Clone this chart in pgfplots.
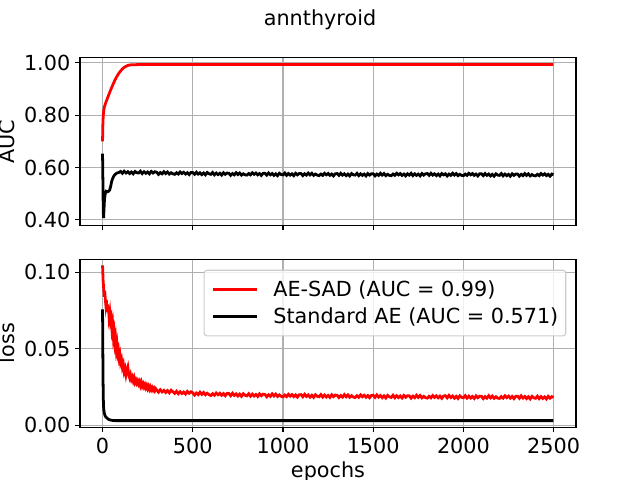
\documentclass[border=0pt]{standalone}
\usepackage{fontspec}
\setmainfont{DejaVu Sans}
\usepackage{pgfplots}
\pgfplotsset{compat=1.18}
\definecolor{mplgrid}{RGB}{176,176,176}
\definecolor{mpllegend}{RGB}{204,204,204}
\pgfplotsset{
  mplstyle/.style={
    scale only axis,
    width=357.12bp, height=120.96bp,
    xmin=-124.95, xmax=2623.95,
    xtick={0,500,1000,1500,2000,2500},
    grid=major,
    grid style={color=mplgrid, line width=0.8bp},
    axis line style={line width=0.8bp},
    tick align=outside,
    major tick length=3.5bp,
    tick style={black, line width=0.8bp},
    xtick pos=bottom, ytick pos=left,
    tick label style={font=\fontsize{15}{18}\selectfont},
    label style={font=\fontsize{15}{18}\selectfont},
    /pgf/number format/assume math mode=true,
    scaled x ticks=false, scaled y ticks=false,
    xticklabel style={yshift=-1bp, /pgf/number format/.cd, fixed, 1000 sep={}},
    yticklabel style={/pgf/number format/.cd, fixed, fixed zerofill, precision=2},
    clip=true,
  },
  legend image code/.code={\draw[#1] (0bp,0bp) -- (31.5bp,0bp);},
}
\begin{document}
\begin{tikzpicture}
\path[use as bounding box] (0,0) rectangle (460.8bp,345.6bp);
\node[anchor=north, inner sep=0pt, font=\fontsize{15}{18}\selectfont] at (230.4bp,338.7bp) {annthyroid};

\begin{axis}[mplstyle,
  at={(57.6bp,183.17bp)}, anchor=south west,
  ymin=0.378, ymax=1.0203,
  ytick={0.4,0.6,0.8,1.0},
  xticklabels={},
  ylabel={AUC},
]
\addplot[red, line width=2bp] coordinates {
(0,0.700) (1,0.740) (2,0.770) (4,0.800) (7,0.820) (10,0.832) (15,0.842) (20,0.852)
(30,0.870) (40,0.888) (50,0.905) (60,0.921) (70,0.936) (80,0.949) (90,0.960)
(100,0.969) (110,0.977) (120,0.983) (130,0.987) (140,0.990) (150,0.992) (165,0.993)
(200,0.9935) (400,0.9935) (800,0.9935) (1200,0.9935) (1600,0.9935) (2000,0.9935) (2499,0.9935)
};
\addplot[black, line width=2bp] table {
0 0.653
2 0.550
4 0.430
6 0.407
8 0.440
11 0.480
15 0.500
20 0.509
25 0.507
30 0.508
35 0.510
40 0.515
45 0.528
50 0.545
55 0.556
60 0.564
65 0.570
70 0.574
80 0.579
90 0.581
100 0.585
110 0.578
120 0.586
130 0.579
140 0.584
150 0.577
160 0.583
170 0.576
180 0.585
190 0.580
200 0.579
210 0.586
220 0.577
230 0.584
240 0.578
250 0.583
260 0.576
270 0.585
280 0.579
290 0.584
300 0.582
310 0.574
320 0.581
330 0.576
340 0.584
350 0.577
360 0.583
370 0.575
380 0.580
390 0.576
400 0.574
410 0.580
420 0.575
430 0.583
440 0.577
450 0.582
460 0.575
470 0.580
480 0.573
490 0.581
500 0.581
510 0.574
520 0.582
530 0.575
540 0.580
550 0.573
560 0.579
570 0.572
580 0.581
590 0.576
600 0.574
610 0.581
620 0.572
630 0.579
640 0.573
650 0.578
660 0.571
670 0.580
680 0.574
690 0.579
700 0.578
710 0.570
720 0.577
730 0.572
740 0.580
750 0.573
760 0.579
770 0.571
780 0.576
790 0.572
800 0.571
810 0.577
820 0.572
830 0.580
840 0.574
850 0.579
860 0.572
870 0.577
880 0.570
890 0.578
900 0.578
910 0.571
920 0.579
930 0.572
940 0.577
950 0.570
960 0.576
970 0.569
980 0.578
990 0.573
1000 0.572
1010 0.579
1020 0.570
1030 0.577
1040 0.571
1050 0.576
1060 0.569
1070 0.578
1080 0.572
1090 0.577
1100 0.577
1110 0.569
1120 0.576
1130 0.571
1140 0.579
1150 0.572
1160 0.578
1170 0.570
1180 0.575
1190 0.571
1200 0.569
1210 0.575
1220 0.570
1230 0.578
1240 0.572
1250 0.577
1260 0.570
1270 0.575
1280 0.568
1290 0.576
1300 0.577
1310 0.570
1320 0.578
1330 0.571
1340 0.576
1350 0.569
1360 0.575
1370 0.568
1380 0.577
1390 0.572
1400 0.571
1410 0.578
1420 0.569
1430 0.576
1440 0.570
1450 0.575
1460 0.568
1470 0.577
1480 0.571
1490 0.576
1500 0.576
1510 0.568
1520 0.575
1530 0.570
1540 0.578
1550 0.571
1560 0.577
1570 0.569
1580 0.574
1590 0.570
1600 0.569
1610 0.575
1620 0.570
1630 0.578
1640 0.572
1650 0.577
1660 0.570
1670 0.575
1680 0.568
1690 0.576
1700 0.571
1710 0.578
1720 0.569
1730 0.576
1740 0.570
1750 0.575
1760 0.568
1770 0.577
1780 0.571
1790 0.576
1800 0.577
1810 0.570
1820 0.578
1830 0.571
1840 0.576
1850 0.569
1860 0.575
1870 0.568
1880 0.577
1890 0.572
1900 0.576
1910 0.568
1920 0.575
1930 0.570
1940 0.578
1950 0.571
1960 0.577
1970 0.569
1980 0.574
1990 0.570
2000 0.569
2010 0.575
2020 0.570
2030 0.578
2040 0.572
2050 0.577
2060 0.570
2070 0.575
2080 0.568
2090 0.576
2100 0.576
2110 0.569
2120 0.577
2130 0.570
2140 0.575
2150 0.568
2160 0.574
2170 0.567
2180 0.576
2190 0.571
2200 0.570
2210 0.577
2220 0.568
2230 0.575
2240 0.569
2250 0.574
2260 0.567
2270 0.576
2280 0.570
2290 0.575
2300 0.575
2310 0.567
2320 0.574
2330 0.569
2340 0.577
2350 0.570
2360 0.576
2370 0.568
2380 0.573
2390 0.569
2400 0.568
2410 0.574
2420 0.569
2430 0.577
2440 0.571
2450 0.576
2460 0.569
2470 0.574
2480 0.567
2490 0.575
2499 0.572
};
\end{axis}

\begin{axis}[mplstyle,
  at={(57.6bp,38.02bp)}, anchor=south west,
  ymin=-0.0013, ymax=0.1086,
  ytick={0,0.05,0.1},
  xlabel={epochs},
  xlabel style={yshift=1.5bp},
  ylabel={loss},
  legend cell align=left,
  legend style={at={(1,1)}, anchor=north east, xshift=-7bp, yshift=-7.6bp,
    font=\fontsize{15}{18}\selectfont,
    draw=mpllegend, line width=0.8bp, rounded corners=2bp,
    fill=white, fill opacity=0.8, text opacity=1,
    inner xsep=5.3bp, inner ysep=7.5bp,
    nodes={inner sep=0bp},
    column sep=11bp, row sep=6.5bp},
]
\addplot[red, line width=2bp] table {
0 0.1046
3 0.095
6 0.090
9 0.084
12 0.088
15 0.083
18 0.079
21 0.082
24 0.076
27 0.079
30 0.074
33 0.077
36 0.071
40 0.074
44 0.068
48 0.070
52 0.063
56 0.066
60 0.058
64 0.061
68 0.054
72 0.057
76 0.050
80 0.053
84 0.047
88 0.049
92 0.044
96 0.046
100 0.041
105 0.043
110 0.038
115 0.040
120 0.035
125 0.037
130 0.033
135 0.036
140 0.038
145 0.033
150 0.031
155 0.033
160 0.030
165 0.0315
170 0.029
175 0.031
180 0.028
185 0.0295
190 0.0275
195 0.029
200 0.027
205 0.0285
210 0.026
215 0.028
220 0.0255
225 0.027
230 0.025
235 0.0265
240 0.0245
245 0.026
250 0.024
255 0.0255
260 0.0235
265 0.025
270 0.0232
275 0.0245
280 0.023
285 0.0242
290 0.0226
295 0.0238
300 0.0230
310 0.0216
320 0.0232
330 0.0218
340 0.0228
350 0.0214
360 0.0226
370 0.0212
380 0.0229
390 0.0219
400 0.0208
410 0.0222
420 0.0206
430 0.0219
440 0.0207
450 0.0217
460 0.0204
470 0.0221
480 0.0209
490 0.0219
500 0.0212
510 0.0197
520 0.0210
530 0.0200
540 0.0216
550 0.0202
560 0.0214
570 0.0199
580 0.0209
590 0.0200
600 0.0194
610 0.0206
620 0.0196
630 0.0211
640 0.0199
650 0.0209
660 0.0196
670 0.0207
680 0.0193
690 0.0208
700 0.0207
710 0.0193
720 0.0209
730 0.0195
740 0.0205
750 0.0191
760 0.0203
770 0.0189
780 0.0206
790 0.0196
800 0.0192
810 0.0206
820 0.0190
830 0.0203
840 0.0191
850 0.0201
860 0.0188
870 0.0205
880 0.0193
890 0.0203
900 0.0201
910 0.0186
920 0.0199
930 0.0189
940 0.0205
950 0.0191
960 0.0203
970 0.0188
980 0.0198
990 0.0189
1000 0.0185
1010 0.0197
1020 0.0187
1030 0.0202
1040 0.0190
1050 0.0200
1060 0.0187
1070 0.0198
1080 0.0184
1090 0.0199
1100 0.0200
1110 0.0186
1120 0.0202
1130 0.0188
1140 0.0198
1150 0.0184
1160 0.0196
1170 0.0182
1180 0.0199
1190 0.0189
1200 0.0186
1210 0.0200
1220 0.0184
1230 0.0197
1240 0.0185
1250 0.0195
1260 0.0182
1270 0.0199
1280 0.0187
1290 0.0197
1300 0.0196
1310 0.0181
1320 0.0194
1330 0.0184
1340 0.0200
1350 0.0186
1360 0.0198
1370 0.0183
1380 0.0193
1390 0.0184
1400 0.0181
1410 0.0193
1420 0.0183
1430 0.0198
1440 0.0186
1450 0.0196
1460 0.0183
1470 0.0194
1480 0.0180
1490 0.0195
1500 0.0196
1510 0.0182
1520 0.0198
1530 0.0184
1540 0.0194
1550 0.0180
1560 0.0192
1570 0.0178
1580 0.0195
1590 0.0185
1600 0.0182
1610 0.0196
1620 0.0180
1630 0.0193
1640 0.0181
1650 0.0191
1660 0.0178
1670 0.0195
1680 0.0183
1690 0.0193
1700 0.0192
1710 0.0177
1720 0.0190
1730 0.0180
1740 0.0196
1750 0.0182
1760 0.0194
1770 0.0179
1780 0.0189
1790 0.0180
1800 0.0177
1810 0.0189
1820 0.0179
1830 0.0194
1840 0.0182
1850 0.0192
1860 0.0179
1870 0.0190
1880 0.0176
1890 0.0191
1900 0.0193
1910 0.0179
1920 0.0195
1930 0.0181
1940 0.0191
1950 0.0177
1960 0.0189
1970 0.0175
1980 0.0192
1990 0.0182
2000 0.0179
2010 0.0193
2020 0.0177
2030 0.0190
2040 0.0178
2050 0.0188
2060 0.0175
2070 0.0192
2080 0.0180
2090 0.0190
2100 0.0189
2110 0.0174
2120 0.0187
2130 0.0177
2140 0.0193
2150 0.0179
2160 0.0191
2170 0.0176
2180 0.0186
2190 0.0177
2200 0.0175
2210 0.0187
2220 0.0177
2230 0.0192
2240 0.0180
2250 0.0190
2260 0.0177
2270 0.0188
2280 0.0174
2290 0.0189
2300 0.0190
2310 0.0176
2320 0.0192
2330 0.0178
2340 0.0188
2350 0.0174
2360 0.0186
2370 0.0172
2380 0.0189
2390 0.0179
2400 0.0176
2410 0.0190
2420 0.0174
2430 0.0187
2440 0.0175
2450 0.0185
2460 0.0172
2470 0.0189
2480 0.0177
2490 0.0187
2499 0.0181
};
\addlegendentry{AE-SAD (AUC = 0.99)}
\addplot[black, line width=2bp] coordinates {
(0,0.0757) (1,0.060) (2,0.042) (3,0.028) (4,0.019) (5,0.0136) (7,0.0100) (10,0.0078)
(14,0.0062) (19,0.0053) (24,0.0048) (30,0.0041) (38,0.0036) (50,0.0032) (70,0.0030)
(100,0.0030) (500,0.0030) (1000,0.0030) (1500,0.0030) (2000,0.0030) (2499,0.0030)
};
\addlegendentry{Standard AE (AUC = 0.571)}
\end{axis}
\end{tikzpicture}
\end{document}
